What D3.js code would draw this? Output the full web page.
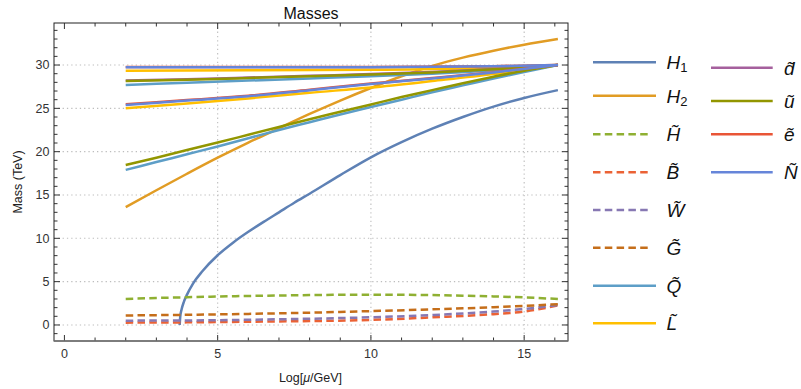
<!DOCTYPE html>
<html><head><meta charset="utf-8">
<script src="https://cdn.jsdelivr.net/npm/d3@7"></script>
<style>
body{margin:0;background:#fff;}
svg{display:block;font-family:"Liberation Sans",Arial,sans-serif;}
</style></head>
<body><svg id="c" width="801" height="389"></svg>
<script>
// ---------- data ----------
const xTicks = [0, 5, 10, 15];
const yTicks = [0, 5, 10, 15, 20, 25, 30];
const xGrid = [5, 10, 15];
const yGrid = [0, 5, 10, 15, 20, 25, 30];

const H1 = [[[3.76,0],[3.78,1.0],[3.82,1.75],[3.9,2.7],[4.0,3.5],[4.2,4.8],[4.5,6.2],[5,8.05],[5.5,9.5],[6,10.75],[6.5,11.9],[7,13.0],[7.5,14.1],[8,15.15],[9,17.3],[10,19.35],[11,21.1],[12,22.65],[13,24.0],[14,25.2],[15,26.2],[16.1,27.1]]];
const H2 = [[[2,13.6],[3,15.55],[4,17.45],[5,19.3],[6,21.05],[7,22.7],[8,24.35],[9,25.9],[10,27.35],[11,28.7],[12,29.9],[13,30.85],[14,31.65],[15,32.35],[16.1,33.0]]];
const Ht = [[[2,3.0],[3,3.12],[4,3.2],[5,3.28],[6,3.35],[7,3.4],[8,3.45],[9,3.48],[10,3.5],[11,3.48],[12,3.45],[13,3.38],[14,3.3],[15,3.18],[16.1,3.0]]];
const Bt = [[[2,0.27],[4,0.3],[6,0.37],[8,0.45],[10,0.58],[12,0.88],[14,1.25],[15,1.55],[16.1,2.25]]];
const Wt = [[[2,0.5],[4,0.52],[6,0.6],[8,0.72],[10,0.89],[12,1.15],[14,1.55],[15,1.85],[16.1,2.3]]];
const Gt = [[[2,1.1],[4,1.17],[6,1.28],[8,1.42],[10,1.6],[12,1.8],[14,2.05],[15,2.2],[16.1,2.4]]];
const Qt = [
  [[2,27.7],[4,27.95],[6,28.2],[8,28.45],[10,28.7],[12,29.0],[14,29.4],[16.1,30]],
  [[2,17.9],[3,18.8],[4,19.7],[5,20.6],[6,21.55],[7,22.5],[8,23.4],[9,24.3],[10,25.15],[11,26.0],[12,26.85],[13,27.65],[14,28.45],[15,29.2],[16.1,30]]
];
const Lt = [
  [[2,29.35],[6,29.4],[10,29.45],[13,29.6],[16.1,30]],
  [[2,25.0],[4,25.55],[6,26.15],[8,26.8],[10,27.4],[12,28.15],[14,28.95],[16.1,30]]
];
const dt = [[[2,28.2],[4,28.35],[6,28.55],[8,28.75],[10,28.95],[12,29.2],[14,29.53],[16.1,30]]];
const ut = [
  [[2,28.15],[4,28.3],[6,28.5],[8,28.7],[10,28.9],[12,29.15],[14,29.5],[16.1,30]],
  [[2,18.46],[3,19.3],[4,20.2],[5,21.05],[6,21.95],[7,22.85],[8,23.75],[9,24.6],[10,25.45],[11,26.3],[12,27.1],[13,27.9],[14,28.65],[15,29.35],[16.1,30]]
];
const et = [
  [[2,29.78],[6,29.78],[10,29.78],[14,29.87],[16.1,30]],
  [[2,25.46],[4,25.96],[6,26.46],[8,27.16],[10,27.86],[12,28.5],[14,29.18],[16.1,30]]
];
const Nt = [
  [[2,29.75],[6,29.75],[10,29.75],[14,29.85],[16.1,30]],
  [[2,25.4],[4,25.9],[6,26.4],[8,27.1],[10,27.8],[12,28.45],[14,29.15],[16.1,30]]
];

const seriesData = [H1, H2, Ht, Bt, Wt, Gt, Qt, Lt, dt, ut, et, Nt];
const seriesColors = ["#5E81B5","#E19C24","#8FB032","#EB6235","#8778B3","#C56E1A","#5D9EC7","#FFBF00","#A5609D","#929600","#E95536","#6685D9"];
const seriesDashed = [false,false,true,true,true,true,false,false,false,false,false,false];
// legend labels: [letter, subscript]
const legendLabels = [["H","1"],["H","2"],["H\u0303",""],["B\u0303",""],["W\u0303",""],["G\u0303",""],["Q\u0303",""],["L\u0303",""],["d\u0303",""],["\u0169",""],["\u1EBD",""],["\u00D1",""]];

// ---------- layout ----------
const svg = d3.select("#c");
const L = 54, R = 568, T = 23, B = 341;
const x = d3.scaleLinear().domain([-0.34, 16.43]).range([L, R]);
const y = d3.scaleLinear().domain([-1.85, 34.85]).range([B, T]);

// grid
const g = svg.append("g");
g.selectAll(".gx").data(xGrid).enter().append("line")
  .attr("x1", d => x(d)).attr("x2", d => x(d)).attr("y1", T).attr("y2", B)
  .attr("stroke", "#bdbdbd").attr("stroke-width", 1.1).attr("stroke-dasharray", "1.3,3");
g.selectAll(".gy").data(yGrid).enter().append("line")
  .attr("y1", d => y(d)).attr("y2", d => y(d)).attr("x1", L).attr("x2", R)
  .attr("stroke", "#bdbdbd").attr("stroke-width", 1.1).attr("stroke-dasharray", "1.3,3");

// curves
const line = d3.line().x(d => x(d[0])).y(d => y(d[1])).curve(d3.curveMonotoneX);
svg.append("clipPath").attr("id", "pc").append("rect")
  .attr("x", L).attr("y", T).attr("width", R - L).attr("height", B - T);
const plot = svg.append("g").attr("clip-path", "url(#pc)");
seriesData.forEach((lines, i) => {
  lines.forEach(pts => {
    plot.append("path").attr("d", line(pts)).attr("fill", "none")
      .attr("stroke", seriesColors[i]).attr("stroke-width", 2.5)
      .attr("stroke-dasharray", seriesDashed[i] ? "7.5,4.3" : null);
  });
});

// frame + ticks
const frame = svg.append("g");
const minorX = d3.range(0, 17, 1), minorY = d3.range(-1, 35, 1);
function tk(x1, y1, x2, y2, col) {
  frame.append("line").attr("x1", x1).attr("y1", y1).attr("x2", x2).attr("y2", y2)
    .attr("stroke", col).attr("stroke-width", 1);
}
minorX.forEach(v => {
  const len = xTicks.includes(v) ? 6 : 3.5;
  tk(x(v), B, x(v), B - len, "#333");
  tk(x(v), T, x(v), T + len, "#333");
});
minorY.forEach(v => {
  const len = yTicks.includes(v) ? 6 : 3.5;
  tk(L, y(v), L + len, y(v), "#333");
  tk(R, y(v), R - len, y(v), "#333");
});
frame.append("rect").attr("x", L).attr("y", T).attr("width", R - L).attr("height", B - T)
  .attr("fill", "none").attr("stroke", "#222").attr("stroke-width", 1);
frame.append("line").attr("x1", L).attr("x2", R).attr("y1", B).attr("y2", B)
  .attr("stroke", "#777").attr("stroke-width", 1.3);

// tick labels
svg.selectAll(".xl").data(xTicks).enter().append("text")
  .attr("x", d => x(d)).attr("y", 358).attr("text-anchor", "middle")
  .attr("font-size", 12.5).attr("fill", "#333").text(d => d);
svg.selectAll(".yl").data(yTicks).enter().append("text")
  .attr("x", 49.5).attr("y", d => y(d) + 4.3).attr("text-anchor", "end")
  .attr("font-size", 12.5).attr("fill", "#333").text(d => d);

// title & axis labels
svg.append("text").attr("x", (L + R) / 2).attr("y", 19).attr("text-anchor", "middle")
  .attr("font-size", 16).attr("fill", "#111").text("Masses");
svg.append("text").attr("transform", `translate(22,${(T + B) / 2}) rotate(-90)`)
  .attr("text-anchor", "middle").attr("font-size", 12.5).attr("fill", "#222").text("Mass (TeV)");
const xl = svg.append("text").attr("x", 310.5).attr("y", 382).attr("text-anchor", "middle")
  .attr("font-size", 12.5).attr("fill", "#222");
xl.append("tspan").text("Log[");
xl.append("tspan").attr("font-style", "italic").text("\u03BC");
xl.append("tspan").text("/GeV]");

// legend
const col1Y = [62.3, 95.7, 134.3, 172.3, 210, 247.7, 285.7, 323.3];
const col2Y = [67.7, 101, 134.3, 172.3];
const leg = svg.append("g");
legendLabels.forEach((lab, i) => {
  const c2 = i >= 8;
  const ly = c2 ? col2Y[i - 8] : col1Y[i];
  const x0 = c2 ? 711 : 593, x1 = c2 ? 772.7 : 656, tx = c2 ? 784 : 666.5;
  leg.append("line").attr("x1", x0).attr("x2", seriesDashed[i] ? x1 - 4.3 : x1)
    .attr("y1", ly).attr("y2", ly).attr("stroke", seriesColors[i]).attr("stroke-width", 2.5)
    .attr("stroke-dasharray", seriesDashed[i] ? "7.5,4.3" : null);
  const t = leg.append("text").attr("x", tx).attr("y", ly + 7).attr("font-size", 19).attr("fill", "#111");
  t.append("tspan").attr("font-style", "italic").text(lab[0]);
  if (lab[1]) t.append("tspan").attr("font-size", 13).attr("dy", 3).text(lab[1]);
});
</script></body></html>
